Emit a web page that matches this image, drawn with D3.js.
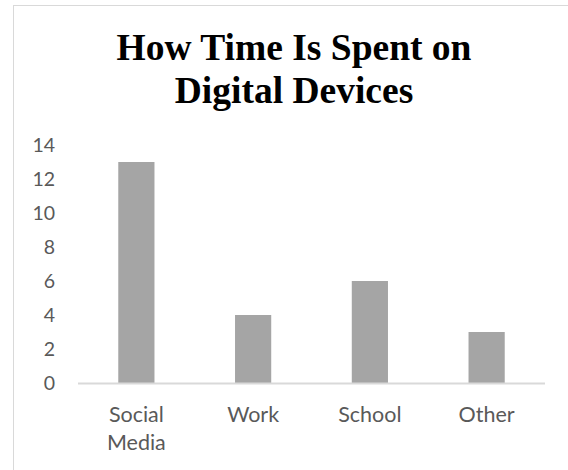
<!DOCTYPE html>
<html>
<head>
<meta charset="utf-8">
<script src="https://cdn.jsdelivr.net/npm/d3@7"></script>
<style>
  html, body { margin: 0; padding: 0; background: #fff; }
  svg { display: block; }
</style>
</head>
<body>
<svg id="chart" width="568" height="470"></svg>
<script>
// Hours per category
const categories = ["Social Media", "Work", "School", "Other"];
const values = [13, 4, 6, 3];
const yTicks = [0, 2, 4, 6, 8, 10, 12, 14];
const titleLines = ["How Time Is Spent on", "Digital Devices"];

const svg = d3.select("#chart");
const W = 568, H = 470;

// chart area frame (partly clipped by the canvas)
svg.append("rect")
  .attr("x", 13.5).attr("y", 5.5)
  .attr("width", W + 10).attr("height", H + 10)
  .attr("fill", "#fff")
  .attr("stroke", "#d9d9d9").attr("stroke-width", 1);

// title
const title = svg.append("text")
  .attr("text-anchor", "middle")
  .attr("font-family", "'Liberation Serif', 'Times New Roman', serif")
  .attr("font-weight", "bold")
  .attr("font-size", 37.5)
  .attr("fill", "#000");
titleLines.forEach((t, i) => {
  title.append("tspan").attr("x", 294).attr("y", 60 + i * 43).text(t);
});

const plot = { left: 78, right: 545, top: 145, bottom: 383 };

const x = d3.scaleBand()
  .domain(categories)
  .range([plot.left, plot.right])
  .paddingInner(0.69)
  .paddingOuter(0.345);

const y = d3.scaleLinear()
  .domain([0, 14])
  .range([plot.bottom, plot.top]);

const font = "Lato, 'Open Sans', sans-serif";

// y axis labels (no line)
const yAxis = d3.axisLeft(y).tickValues(yTicks).tickSize(0).tickPadding(0);
const ya = svg.append("g").attr("transform", "translate(55,0)").call(yAxis);
ya.select(".domain").remove();
ya.selectAll("text")
  .attr("font-family", font)
  .attr("font-size", 19.5)
  .attr("fill", "#595959");

// bars
svg.append("g").selectAll("rect")
  .data(values)
  .join("rect")
  .attr("x", (d, i) => x(categories[i]))
  .attr("y", d => y(d))
  .attr("width", x.bandwidth())
  .attr("height", d => y(0) - y(d))
  .attr("fill", "#a5a5a5");

// baseline
const xAxis = d3.axisBottom(x).tickSize(0).tickFormat("");
const xa = svg.append("g").attr("transform", `translate(0,${y(0)})`).call(xAxis);
xa.select(".domain")
  .attr("stroke", "#d9d9d9")
  .attr("stroke-width", 2)
  .attr("d", `M${plot.left},0.5H${plot.right}`);

// category labels, wrapped on spaces
const labels = svg.append("g")
  .attr("font-family", font)
  .attr("font-size", 21.5)
  .attr("fill", "#595959")
  .attr("text-anchor", "middle");
categories.forEach(c => {
  const t = labels.append("text");
  c.split(" ").forEach((w, j) => {
    t.append("tspan")
      .attr("x", x(c) + x.bandwidth() / 2)
      .attr("y", 422 + j * 28)
      .text(w);
  });
});
</script>
</body>
</html>
